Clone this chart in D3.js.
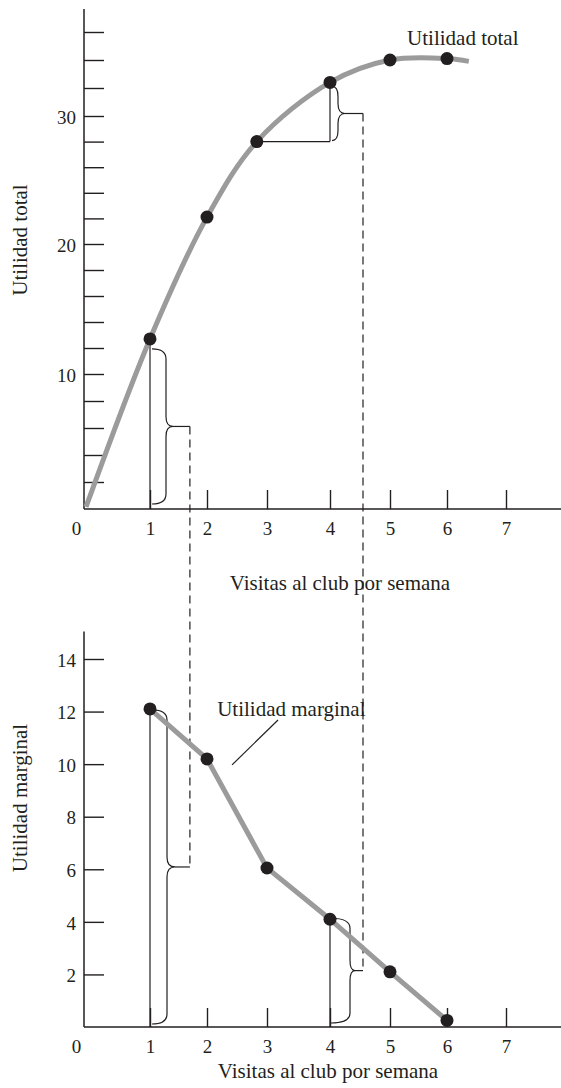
<!DOCTYPE html>
<html>
<head>
<meta charset="utf-8">
<script src="https://cdn.jsdelivr.net/npm/d3@7"></script>
<style>
  html, body { margin: 0; padding: 0; background: #fff; }
  svg { display: block; font-family: "Liberation Serif", "Times New Roman", serif; }
</style>
</head>
<body>
<svg id="chart" width="561" height="1088"></svg>
<script>
// Visits to the club per week
const visits = [1, 2, 3, 4, 5, 6];
const visitTicks = [0, 1, 2, 3, 4, 5, 6, 7];

// Total utility (the third point is drawn slightly before 3)
const totalVisits = [1, 2, 2.83, 4, 5, 6];
const totalUtility = [12.7, 22.1, 28, 32.4, 34, 34.1];
const totalCurveStart = [0, 0.15];
const totalCurveEnd = [6.37, 33.9];
const totalTicks = [2, 4, 6, 8, 10, 12, 14, 16, 18, 20, 22, 24, 26, 28, 30, 32, 34, 36];
const totalTickLabels = [10, 20, 30];

// Marginal utility
const marginalUtility = [12.1, 10.2, 6.05, 4.1, 2.1, 0.25];
const marginalTicks = [2, 4, 6, 8, 10, 12, 14];
const marginalTickLabels = [2, 4, 6, 8, 10, 12, 14];

const ink = "#231f20";
const gray = "#9b9b9b";
const fontFamily = '"Liberation Serif", "Times New Roman", serif';
const axisX = 84;
const width = 561;

const svg = d3.select("#chart");

// Hand-drawn axes: tick spacing is not perfectly uniform, so piecewise scales
const x = d3.scaleLinear().domain(visitTicks).range([86, 150, 207, 267, 330, 390, 447, 506]);
const yTop = d3.scaleLinear().domain([0, 10, 20, 30, 36]).range([509, 374, 244, 116, 32]);
const yBot = d3.scaleLinear().domain([0, 14]).range([1027, 659]);

function drawAxes(y, yMax, ticks, tickLabels) {
  const g = svg.append("g");
  const y0 = y(0);
  g.append("line")
    .attr("x1", axisX).attr("x2", axisX)
    .attr("y1", y(yMax)).attr("y2", y0)
    .attr("stroke", ink).attr("stroke-width", 1.5);
  g.append("line")
    .attr("x1", axisX).attr("x2", width)
    .attr("y1", y0).attr("y2", y0)
    .attr("stroke", ink).attr("stroke-width", 1.5);

  const ya = d3.axisLeft(y)
    .tickValues(ticks)
    .tickSize(-20)
    .tickPadding(8)
    .tickFormat(d => tickLabels.includes(d) ? d : "");
  g.append("g")
    .attr("transform", `translate(${axisX},0)`)
    .call(ya)
    .attr("font-size", 19)
    .attr("font-family", fontFamily)
    .call(s => s.select(".domain").remove())
    .call(s => s.selectAll(".tick line").attr("stroke", ink).attr("stroke-width", 1.4))
    .call(s => s.selectAll(".tick text").attr("fill", ink).attr("dy", "0.38em"));

  const xa = d3.axisBottom(x)
    .tickValues(visitTicks)
    .tickSize(-19)
    .tickPadding(13)
    .tickFormat(d3.format("d"));
  g.append("g")
    .attr("transform", `translate(0,${y0})`)
    .call(xa)
    .attr("font-size", 19)
    .attr("font-family", fontFamily)
    .call(s => s.select(".domain").remove())
    .call(s => s.selectAll(".tick line").attr("stroke", ink).attr("stroke-width", 1.4))
    .call(s => s.selectAll(".tick text").attr("fill", ink))
    .call(s => s.selectAll(".tick").filter(d => d === 0).select("line").remove())
    .call(s => s.selectAll(".tick").filter(d => d === 0).select("text").attr("x", -10));
  return g;
}

function bracePath(x0, y0, y1, arm, tip) {
  const mid = (y0 + y1) / 2;
  const r = Math.min(10, (y1 - y0) / 5);
  const xa = x0 + arm, xt = x0 + tip;
  return `M${x0},${y0} Q${xa},${y0} ${xa},${y0 + r} L${xa},${mid - r} ` +
         `Q${xa},${mid} ${xt},${mid} Q${xa},${mid} ${xa},${mid + r} ` +
         `L${xa},${y1 - r} Q${xa},${y1} ${x0},${y1}`;
}

function thin(g, x1, y1, x2, y2, dashed) {
  return g.append("line")
    .attr("x1", x1).attr("y1", y1).attr("x2", x2).attr("y2", y2)
    .attr("stroke", ink).attr("stroke-width", 1.2)
    .attr("stroke-dasharray", dashed ? "8,5" : null);
}

function brace(g, x0, y0, y1, arm, tip) {
  g.append("path")
    .attr("d", bracePath(x0, y0, y1, arm, tip))
    .attr("fill", "none").attr("stroke", ink).attr("stroke-width", 1.2);
  return { x: x0 + tip, y: (y0 + y1) / 2 };
}

// ---------- Axes ----------
drawAxes(yTop, 37.65, totalTicks, totalTickLabels);
drawAxes(yBot, 15.05, marginalTicks, marginalTickLabels);

// ---------- Annotations: drops, braces and connectors ----------
const ann = svg.append("g");

// total utility: first visit
thin(ann, x(visits[0]), yTop(totalUtility[0]), x(visits[0]), yTop(0));
const tb1 = brace(ann, x(visits[0]) + 2, yTop(totalUtility[0]) + 10, yTop(0) - 5, 14, 21);

// total utility: step from the third to the fourth visit
thin(ann, x(totalVisits[2]), yTop(totalUtility[2]), x(totalVisits[3]), yTop(totalUtility[2]));
thin(ann, x(totalVisits[3]), yTop(totalUtility[3]), x(totalVisits[3]), yTop(totalUtility[2]));
const tb4 = brace(ann, x(totalVisits[3]) + 2, yTop(totalUtility[3]) + 4, yTop(totalUtility[2]) - 1, 6, 13);

// marginal utility: first and fourth visit
thin(ann, x(visits[0]), yBot(marginalUtility[0]), x(visits[0]), yBot(0));
const bb1 = brace(ann, x(visits[0]) + 2, yBot(marginalUtility[0]) + 1, yBot(0) - 3, 15, 23);
thin(ann, x(visits[3]), yBot(marginalUtility[3]), x(visits[3]), yBot(0));
const bb4 = brace(ann, x(visits[3]) + 1, yBot(marginalUtility[3]) - 1, yBot(0) - 4, 19, 24);

// dashed connectors between the two panels
const link1 = x(1.7), link4 = x(4.55);
thin(ann, tb1.x, tb1.y, link1, tb1.y);
thin(ann, link1, tb1.y, link1, bb1.y, true);
thin(ann, link1, bb1.y, bb1.x, bb1.y);
thin(ann, tb4.x, tb4.y, link4, tb4.y);
thin(ann, link4, tb4.y, link4, bb4.y, true);
thin(ann, link4, bb4.y, bb4.x, bb4.y);

// ---------- Total utility curve ----------
const totalPts = [totalCurveStart]
  .concat(totalVisits.map((v, i) => [v, totalUtility[i]]))
  .concat([totalCurveEnd]);
svg.append("path")
  .datum(totalPts)
  .attr("d", d3.line().x(d => x(d[0])).y(d => yTop(d[1])).curve(d3.curveCatmullRom.alpha(0.5)))
  .attr("fill", "none").attr("stroke", gray).attr("stroke-width", 5);
svg.append("g").selectAll("circle")
  .data(totalVisits.map((v, i) => [v, totalUtility[i]]))
  .join("circle")
  .attr("cx", d => x(d[0])).attr("cy", d => yTop(d[1])).attr("r", 6.5)
  .attr("fill", ink);

// ---------- Marginal utility line ----------
const marginalPts = visits.map((v, i) => [v, marginalUtility[i]]);
svg.append("path")
  .datum(marginalPts)
  .attr("d", d3.line().x(d => x(d[0])).y(d => yBot(d[1])))
  .attr("fill", "none").attr("stroke", gray).attr("stroke-width", 5);
svg.append("g").selectAll("circle")
  .data(marginalPts)
  .join("circle")
  .attr("cx", d => x(d[0])).attr("cy", d => yBot(d[1])).attr("r", 6.5)
  .attr("fill", ink);

// ---------- Labels ----------
const labels = svg.append("g").attr("fill", ink).attr("font-size", 21).attr("font-family", fontFamily);
labels.append("text").attr("x", x(5.3)).attr("y", yTop(35.1)).text("Utilidad total");
labels.append("text").attr("x", x(2.17)).attr("y", yBot(11.85)).text("Utilidad marginal");
thin(svg, x(3.175), yBot(11.68), x(2.417), yBot(9.97));

labels.append("text").attr("x", 340).attr("y", 590).attr("text-anchor", "middle")
  .text("Visitas al club por semana");
labels.append("text").attr("x", 328).attr("y", 1078).attr("text-anchor", "middle")
  .text("Visitas al club por semana");
labels.append("text").attr("transform", "translate(27,240) rotate(-90)").attr("text-anchor", "middle")
  .text("Utilidad total");
labels.append("text").attr("transform", "translate(27,798) rotate(-90)").attr("text-anchor", "middle")
  .text("Utilidad marginal");
</script>
</body>
</html>
